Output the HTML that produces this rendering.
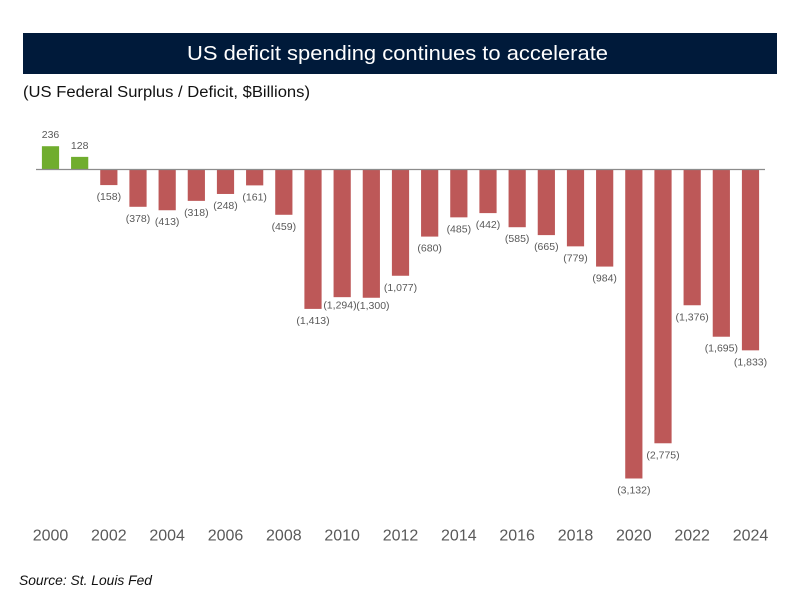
<!DOCTYPE html>
<html>
<head>
<meta charset="utf-8">
<style>
html,body{margin:0;padding:0;background:#fff}
#chart{display:block;width:800px;height:600px;font-family:"Liberation Sans",sans-serif}
</style>
</head>
<body>
<svg id="chart" width="800" height="600" viewBox="0 0 800 600" xmlns="http://www.w3.org/2000/svg">
<rect x="0" y="0" width="800" height="600" fill="#ffffff"/>
<rect x="23" y="33" width="754" height="41" fill="#001a3a"/>
<text x="397.5" y="60" font-size="20.5" fill="#ffffff" text-anchor="middle" textLength="421" lengthAdjust="spacingAndGlyphs">US deficit spending continues to accelerate</text>
<text x="23" y="97" font-size="15.5" fill="#111111" textLength="287" lengthAdjust="spacingAndGlyphs">(US Federal Surplus / Deficit, $Billions)</text>
<g id="bars"></g>
<line x1="36" x2="765" y1="169.5" y2="169.5" stroke="#8c8c8c" stroke-width="1.2"/>
<g id="labels"></g>
<g id="ticks"></g>
<text x="19" y="585" font-size="13.5" font-style="italic" fill="#111111" textLength="133" lengthAdjust="spacingAndGlyphs">Source: St. Louis Fed</text>
</svg>
<script>
const years = [2000,2001,2002,2003,2004,2005,2006,2007,2008,2009,2010,2011,2012,2013,2014,2015,2016,2017,2018,2019,2020,2021,2022,2023,2024];
const balances = [236,128,-158,-378,-413,-318,-248,-161,-459,-1413,-1294,-1300,-1077,-680,-485,-442,-585,-665,-779,-984,-3132,-2775,-1376,-1695,-1833];
const tickYears = [2000,2002,2004,2006,2008,2010,2012,2014,2016,2018,2020,2022,2024];

const NS = 'http://www.w3.org/2000/svg';
const xScale = y => 50.5 + (y - 2000) * (700 / 24);
const yScale = v => 169.5 - v * (309 / 3132);
const BAR_W = 17.2;
const fmt = v => {
  const s = Math.abs(v).toLocaleString('en-US');
  return v < 0 ? '(' + s + ')' : s;
};
// The 2010 and 2011 labels are pulled up and apart so they do not collide.
const labelDx = yr => (yr === 2010 ? -2.2 : yr === 2011 ? 1.6 : 0);
const labelDy = yr => (yr === 2010 || yr === 2011 ? -3.7 : 0);
const barsG = document.getElementById('bars');
const labelsG = document.getElementById('labels');
const ticksG = document.getElementById('ticks');

years.forEach((yr, i) => {
  const v = balances[i];
  const cx = xScale(yr);
  const y0 = yScale(0);
  const y1 = yScale(v);
  const r = document.createElementNS(NS, 'rect');
  
  
  r.setAttribute('x', cx - BAR_W / 2);
  r.setAttribute('y', Math.min(y0, y1));
  r.setAttribute('width', BAR_W);
  r.setAttribute('height', Math.abs(y1 - y0));
  r.setAttribute('fill', v >= 0 ? '#70ad2e' : '#bd5858');
  barsG.appendChild(r);

  const t = document.createElementNS(NS, 'text');
  
  
  t.setAttribute('x', cx + labelDx(yr));
  t.setAttribute('y', (v >= 0 ? y1 - 8 : y1 + 15) + labelDy(yr));
  t.setAttribute('font-size', '10.5');
  t.setAttribute('fill', '#595959');
  t.setAttribute('text-anchor', 'middle');
  t.textContent = fmt(v);
  labelsG.appendChild(t);
});

tickYears.forEach(yr => {
  const t = document.createElementNS(NS, 'text');
  
  
  t.setAttribute('x', xScale(yr));
  t.setAttribute('y', 540.5);
  t.setAttribute('font-size', '16');
  t.setAttribute('fill', '#595959');
  t.setAttribute('text-anchor', 'middle');
  t.textContent = yr;
  ticksG.appendChild(t);
});
</script>
</body>
</html>
